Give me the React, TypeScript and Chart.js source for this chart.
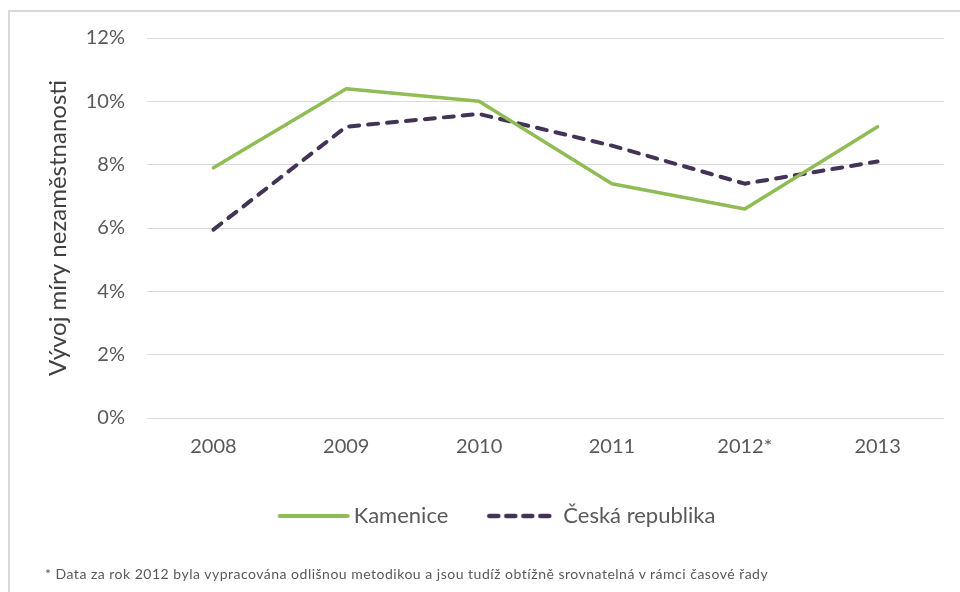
import React, { useEffect, useRef } from "react";
import { Chart, registerables } from "chart.js";

Chart.register(...registerables);

const categories = ["2008", "2009", "2010", "2011", "2012*", "2013"];
const kamenice = [7.9, 10.4, 10.0, 7.4, 6.6, 9.2];
const ceskaRepublika = [5.95, 9.2, 9.6, 8.6, 7.4, 8.1];
const seriesNames = ["Kamenice", "Česká republika"];
const yAxisTitle = "Vývoj míry nezaměstnanosti";
const footnote =
  "* Data za rok 2012 byla vypracována odlišnou metodikou a jsou tudíž obtížně srovnatelná v rámci časové řady";

const FONT = "Lato, 'Open Sans', sans-serif";
const GREEN = "#8fbc55";
const PURPLE = "#433356";

function legendSwatch(color: string, width: number, dash: number[]) {
  const c = document.createElement("canvas");
  c.width = 74;
  c.height = 10;
  const ctx = c.getContext("2d")!;
  ctx.strokeStyle = color;
  ctx.lineWidth = width;
  ctx.lineCap = "round";
  ctx.setLineDash(dash);
  ctx.beginPath();
  ctx.moveTo(3, 5);
  ctx.lineTo(71, 5);
  ctx.stroke();
  return c;
}

export default function App() {
  const ref = useRef<HTMLCanvasElement | null>(null);

  useEffect(() => {
    if (!ref.current) return;
    const chart = new Chart(ref.current, {
      type: "line",
      data: {
        labels: categories,
        datasets: [
          {
            label: seriesNames[0],
            data: kamenice,
            borderColor: GREEN,
            backgroundColor: GREEN,
            borderWidth: 3.5,
            pointRadius: 0,
            pointStyle: legendSwatch(GREEN, 4, []) as any,
            tension: 0,
            borderJoinStyle: "round",
            borderCapStyle: "round",
          },
          {
            label: seriesNames[1],
            data: ceskaRepublika,
            borderColor: PURPLE,
            backgroundColor: PURPLE,
            borderWidth: 4,
            borderDash: [10, 9],
            borderCapStyle: "round",
            borderJoinStyle: "round",
            pointRadius: 0,
            pointStyle: legendSwatch(PURPLE, 4.5, [9, 8]) as any,
            tension: 0,
          },
        ],
      },
      options: {
        responsive: false,
        maintainAspectRatio: false,
        animation: false,
        layout: { padding: { left: 56, right: 16, top: 38, bottom: 43 } },
        plugins: {
          tooltip: { enabled: false },
          legend: {
            position: "bottom",
            labels: {
              usePointStyle: true,
              pointStyleWidth: 58,
              boxHeight: 20,
              padding: 46,
              color: "#595959",
              font: { family: FONT, size: 22 },
            },
          },
        },
        scales: {
          x: {
            offset: true,
            grid: { display: false, drawTicks: false },
            border: { display: false },
            ticks: {
              color: "#595959",
              font: { family: FONT, size: 20 },
              padding: 17,
            },
            afterFit: (scale: any) => {
              scale.height = 41;
            },
          },
          y: {
            min: 0,
            max: 12,
            grid: { color: "#d9d9d9", lineWidth: 1, drawTicks: false },
            border: { display: false },
            ticks: {
              stepSize: 2,
              color: "#595959",
              font: { family: FONT, size: 20 },
              padding: 22,
              callback: (v: any) => v + "%",
            },
            title: {
              display: true,
              text: yAxisTitle,
              color: "#404040",
              font: { family: FONT, size: 24 },
              padding: { top: -12, bottom: 0 },
            },
            afterFit: (scale: any) => {
              scale.width = 91;
            },
          },
        },
      },
    });
    return () => chart.destroy();
  }, []);

  return (
    <div
      style={{
        position: "fixed",
        left: 0,
        top: 0,
        width: 960,
        height: 592,
        overflow: "hidden",
        background: "#fff",
      }}
    >
      <div
        style={{
          position: "absolute",
          left: 8,
          top: 10,
          width: 1000,
          height: 650,
          border: "2px solid #d9d9d9",
          boxSizing: "border-box",
        }}
      />
      <canvas
        ref={ref}
        width={960}
        height={580}
        style={{ position: "absolute", left: 0, top: 0, width: 960, height: 580 }}
      />
      <div
        style={{
          position: "absolute",
          left: 45,
          top: 566,
          fontFamily: FONT,
          fontSize: 14,
          letterSpacing: "0.5px",
          color: "#595959",
          whiteSpace: "nowrap",
          lineHeight: "16px",
        }}
      >
        {footnote}
      </div>
    </div>
  );
}
